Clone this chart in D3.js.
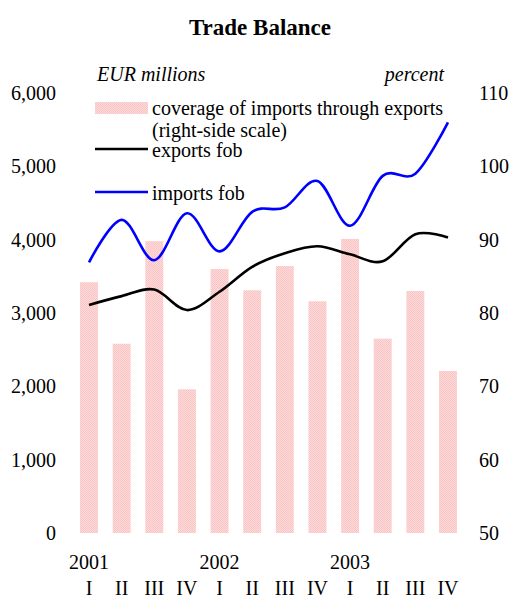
<!DOCTYPE html>
<html>
<head>
<meta charset="utf-8">
<script src="https://cdn.jsdelivr.net/npm/d3@7"></script>
<style>
  body { margin: 0; background: #fff; }
  text { font-family: "Liberation Serif", "Times New Roman", serif; fill: #000; }
</style>
</head>
<body>
<div id="chart"></div>
<script>
// Data
let years = ["2001", "2002", "2003"];
let quarters = ["I", "II", "III", "IV", "I", "II", "III", "IV", "I", "II", "III", "IV"];
let coverage = [84.2, 75.8, 89.8, 69.6, 86.0, 83.1, 86.4, 81.6, 90.1, 76.5, 83.0, 72.1];
let exportsFob = [3110, 3230, 3320, 3040, 3290, 3630, 3815, 3910, 3800, 3705, 4075, 4030];
let importsFob = [3690, 4270, 3720, 4360, 3840, 4380, 4440, 4800, 4190, 4870, 4900, 5600];
let leftTicks = [0, 1000, 2000, 3000, 4000, 5000, 6000];
let rightTicks = [50, 60, 70, 80, 90, 100, 110];

// SVG Setup Details
let W = 514, H = 598;
let plot = {"left": 72.7, "right": 464.3, "top": 93, "bottom": 533};

let svg = d3.select("#chart").append("svg")
    .attr("width", W)
    .attr("height", H);

// dotted pink fill like the original bars
let defs = svg.append("defs");
let pat = defs.append("pattern")
    .attr("id", "dots")
    .attr("width", 2).attr("height", 2)
    .attr("patternUnits", "userSpaceOnUse");
pat.append("rect").attr("width", 2).attr("height", 2).attr("fill", "#ffdada");
pat.append("rect").attr("width", 1).attr("height", 1).attr("fill", "#f9c4c4");
pat.append("rect").attr("x", 1).attr("y", 1).attr("width", 1).attr("height", 1).attr("fill", "#f9c4c4");

let idx = d3.range(quarters.length);
let x = d3.scaleBand().domain(idx)
    .range([plot.left, plot.right])
    .paddingInner(0.45).paddingOuter(0.225);
let yL = d3.scaleLinear().domain([0, 6000]).range([plot.bottom, plot.top]);
let yR = d3.scaleLinear().domain([50, 110]).range([plot.bottom, plot.top]);
let cx = i => x(i) + x.bandwidth() / 2;

// bars (right-side scale)
svg.append("g").selectAll("rect")
    .data(coverage)
    .enter().append("rect")
    .attr("x", (d, i) => x(i))
    .attr("width", x.bandwidth())
    .attr("y", d => yR(d))
    .attr("height", d => yR(50) - yR(d))
    .attr("fill", "url(#dots)");

// lines
let line = d3.line()
    .x((d, i) => cx(i))
    .y(d => yL(d))
    .curve(d3.curveCardinal.tension(0));

svg.append("path").datum(exportsFob)
    .attr("d", line)
    .attr("fill", "none").attr("stroke", "#000").attr("stroke-width", 2.6);
svg.append("path").datum(importsFob)
    .attr("d", line)
    .attr("fill", "none").attr("stroke", "#0000ff").attr("stroke-width", 2.6);

// axes (no lines, only labels)
let leftAxis = d3.axisLeft(yL).tickValues(leftTicks).tickSize(0).tickPadding(0)
    .tickFormat(d3.format(","));
let gl = svg.append("g").attr("transform", "translate(56,0)").call(leftAxis);
gl.select(".domain").remove();
gl.selectAll("text").style("font-size", "20px").style("font-family", "Liberation Serif");

let rightAxis = d3.axisRight(yR).tickValues(rightTicks).tickSize(0).tickPadding(0);
let gr = svg.append("g").attr("transform", "translate(479,0)").call(rightAxis);
gr.select(".domain").remove();
gr.selectAll("text").style("font-size", "20px").style("font-family", "Liberation Serif");

// category labels
svg.append("g").selectAll("text")
    .data(quarters)
    .enter().append("text")
    .attr("x", (d, i) => cx(i))
    .attr("y", 595)
    .attr("text-anchor", "middle")
    .style("font-size", "20px")
    .text(d => d);

svg.append("g").selectAll("text")
    .data(years)
    .enter().append("text")
    .attr("x", (d, i) => cx(i * 4))
    .attr("y", 569)
    .attr("text-anchor", "middle")
    .style("font-size", "20px")
    .text(d => d);

// title and units
svg.append("text")
    .attr("x", 260).attr("y", 35)
    .attr("text-anchor", "middle")
    .style("font-size", "23px").style("font-weight", "bold")
    .text("Trade Balance");

svg.append("text")
    .attr("x", 97).attr("y", 81)
    .style("font-size", "20px").style("font-style", "italic")
    .text("EUR millions");
svg.append("text")
    .attr("x", 444).attr("y", 81)
    .attr("text-anchor", "end")
    .style("font-size", "20px").style("font-style", "italic")
    .text("percent");

// legend
let lg = svg.append("g");
lg.append("rect").attr("x", 95).attr("y", 102).attr("width", 53).attr("height", 12)
    .attr("fill", "url(#dots)");
lg.append("text").attr("x", 152).attr("y", 115).style("font-size", "20px")
    .text("coverage of imports through exports");
lg.append("text").attr("x", 152).attr("y", 137).style("font-size", "20px")
    .text("(right-side scale)");
lg.append("line").attr("x1", 95).attr("x2", 148).attr("y1", 149).attr("y2", 149)
    .attr("stroke", "#000").attr("stroke-width", 2.6);
lg.append("text").attr("x", 152).attr("y", 157).style("font-size", "20px")
    .text("exports fob");
lg.append("line").attr("x1", 95).attr("x2", 148).attr("y1", 192).attr("y2", 192)
    .attr("stroke", "#0000ff").attr("stroke-width", 2.6);
lg.append("text").attr("x", 152).attr("y", 200).style("font-size", "20px")
    .text("imports fob");
</script>
</body>
</html>
